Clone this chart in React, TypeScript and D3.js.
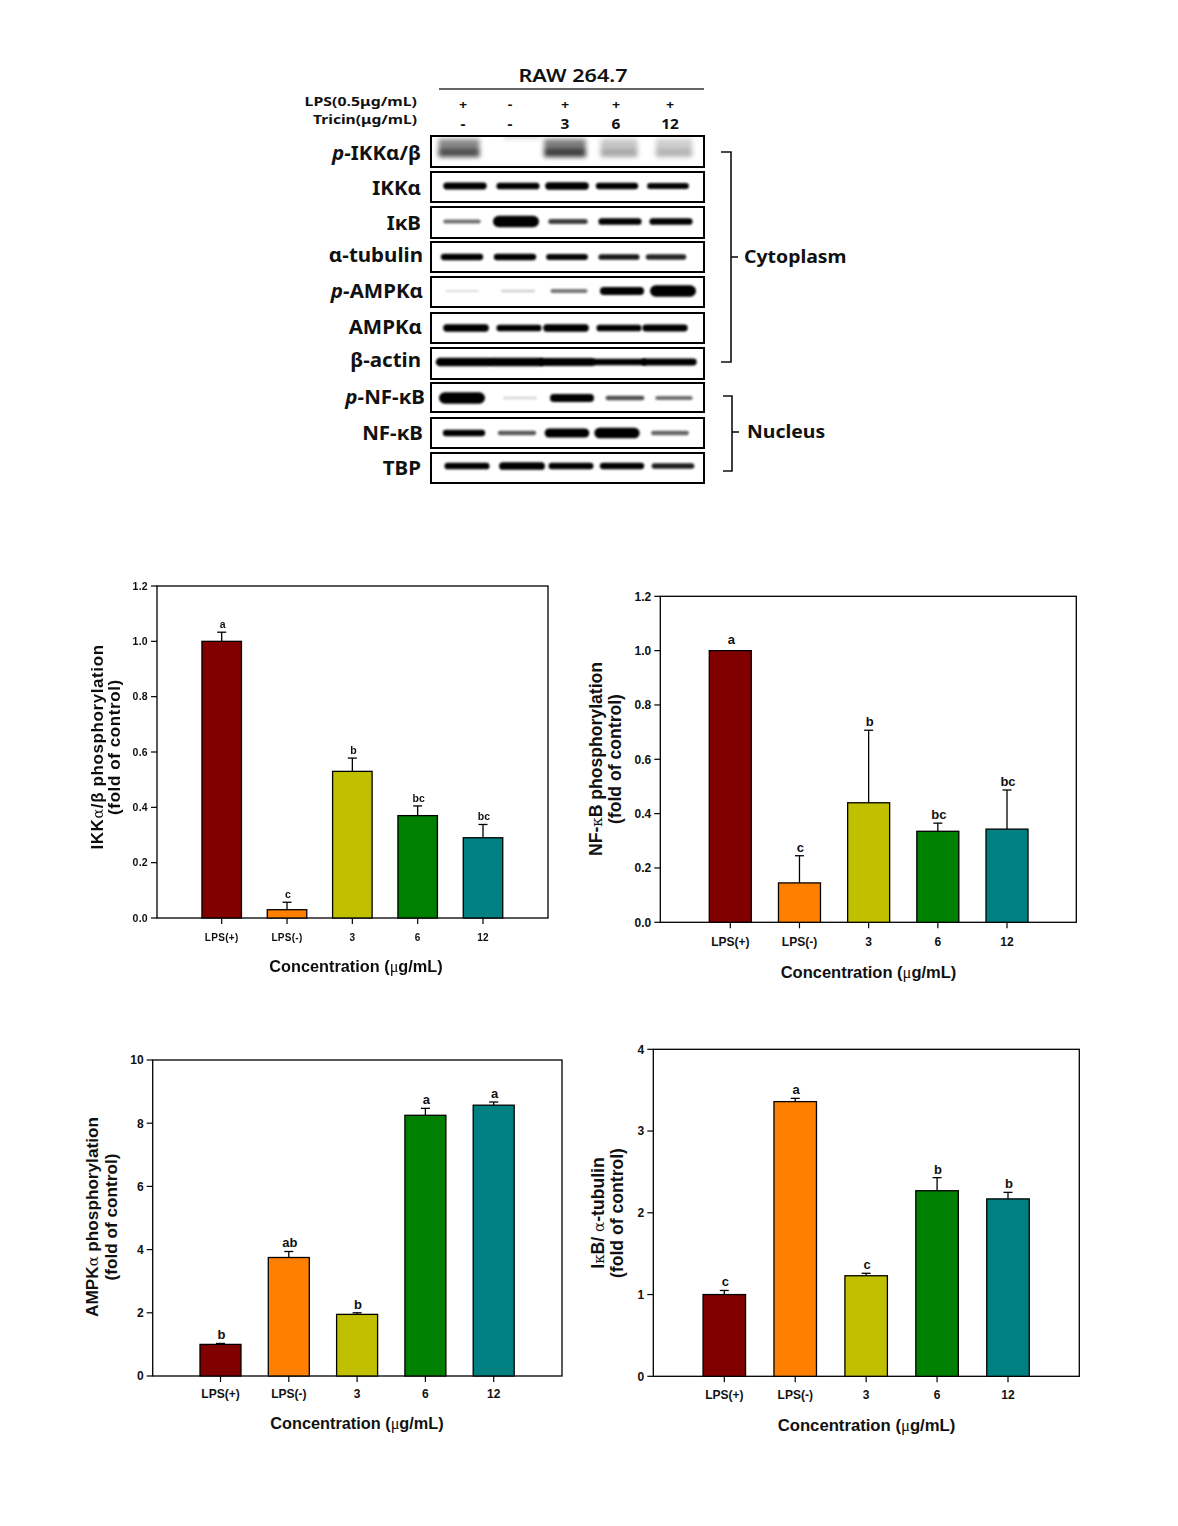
import React from "react";
import * as d3 from "d3";

// ---------- data ----------
const categories = ["LPS(+)", "LPS(-)", "3", "6", "12"];
const barColors = ["#800000", "#FF8000", "#C0C000", "#008000", "#008080"];

const ikkValues = [1.0, 0.03, 0.53, 0.37, 0.29];
const ikkErrTops = [1.033, 0.057, 0.578, 0.405, 0.338];
const ikkLetters = ["a", "c", "b", "bc", "bc"];
const ikkTicks = [0, 0.2, 0.4, 0.6, 0.8, 1.0, 1.2];

const nfkbValues = [1.0, 0.145, 0.44, 0.335, 0.343];
const nfkbErrTops = [1.0, 0.245, 0.707, 0.365, 0.487];
const nfkbLetters = ["a", "c", "b", "bc", "bc"];
const nfkbTicks = [0, 0.2, 0.4, 0.6, 0.8, 1.0, 1.2];

const ampkValues = [1.0, 3.75, 1.95, 8.25, 8.57];
const ampkErrTops = [1.03, 3.94, 2.0, 8.47, 8.67];
const ampkLetters = ["b", "ab", "b", "a", "a"];
const ampkTicks = [0, 2, 4, 6, 8, 10];

const ikbValues = [1.0, 3.36, 1.23, 2.27, 2.17];
const ikbErrTops = [1.05, 3.4, 1.26, 2.43, 2.25];
const ikbLetters = ["c", "a", "c", "b", "b"];
const ikbTicks = [0, 1, 2, 3, 4];

const lpsRow = ["+", "-", "+", "+", "+"];
const tricinRow = ["-", "-", "3", "6", "12"];

// relative band density of each lane in each blot
const pIkkBand = [0.62, 0.22, 0.68, 0.3, 0.26];
const ikkBand = [0.8, 0.78, 0.82, 0.72, 0.68];
const ikbBand = [0.35, 1, 0.5, 0.78, 0.78];
const tubulinBand = [0.72, 0.72, 0.68, 0.62, 0.58];
const pAmpkBand = [0.04, 0.08, 0.32, 0.86, 1];
const ampkBand = [0.82, 0.78, 0.82, 0.78, 0.8];
const actinBand = [0.88, 0.88, 0.86, 0.78, 0.8];
const pNfkbBand = [1, 0.06, 0.85, 0.45, 0.35];
const nfkbBand = [0.72, 0.42, 0.9, 0.95, 0.38];
const tbpBand = [0.78, 0.84, 0.76, 0.72, 0.6];

const FONT_CHART = "'Liberation Sans', Arial, sans-serif";
const FONT_BLOT = "'Noto Sans', 'Open Sans', sans-serif";

// ---------- blot panel ----------
const blots = [
  { label: "IKK", pre: "p-", suf: "α/β", d: pIkkBand, top: 136, h: 31, ly: 160, lx: 421, by: 150, shift: [-4, 7, -2, 0, 3], doublet: true, wide: 0 },
  { label: "IKKα", d: ikkBand, top: 172, h: 30, ly: 195, lx: 421, by: 186, shift: [2, 3, 0, -2, -3], wide: 0 },
  { label: "IκB", d: ikbBand, top: 207, h: 31, ly: 230, lx: 421, by: 221.5, shift: [-1, 1, 1, 1, 0], wide: 0 },
  { label: "α-tubulin", d: tubulinBand, top: 242, h: 30, ly: 262, lx: 423, by: 257, shift: [-1, 0, 0, 0, -5], wide: 0 },
  { label: "AMPKα", pre: "p-", d: pAmpkBand, top: 277, h: 30, ly: 298, lx: 423, by: 291, shift: [-1, 3, 2, 3, 2], wide: 0 },
  { label: "AMPKα", d: ampkBand, top: 313, h: 30, ly: 334, lx: 422, by: 328, shift: [3, 4, -1, 0, -6], wide: 2 },
  { label: "β-actin", d: actinBand, top: 348, h: 31, ly: 367, lx: 421, by: 362, shift: [1, 1, 0, 0, -2], wide: 12 },
  { label: "NF-κB", pre: "p-", d: pNfkbBand, top: 383, h: 29, ly: 404, lx: 425, by: 398, shift: [-1, 5, 5, 6, 3], wide: 0 },
  { label: "NF-κB", d: nfkbBand, top: 418, h: 30, ly: 440, lx: 423, by: 433, shift: [1, 2, 0, -2, -1], wide: 0 },
  { label: "TBP", d: tbpBand, top: 453, h: 30, ly: 475, lx: 421, by: 466, shift: [4, 7, 4, 3, 2], wide: 2 },
];
const headerShift = [0, -5, -2, -3, -1];

function Wide({ x, y, sx, anchor = "start", size, weight = 700, children }: any) {
  return (
    <text transform={`translate(${x},${y}) scale(${sx},1)`} textAnchor={anchor} fontFamily={FONT_BLOT}
      fontWeight={weight} fontSize={size} fill="#111">{children}</text>
  );
}

function Blot() {
  const laneX = d3.scalePoint<number>().domain(d3.range(5)).range([463, 671]);
  const thick = d3.scaleLinear().domain([0, 0.8, 1]).range([2, 6.8, 11.5]);
  const width = d3.scaleLinear().domain([0, 1]).range([33, 46]);
  const ink = d3.scaleLinear().domain([0, 0.3, 0.7, 1]).range([0.08, 0.5, 1, 1]).clamp(true);

  return (
    <g>
      <defs>
        <filter id="bandBlur" x="-20%" y="-100%" width="140%" height="300%">
          <feGaussianBlur stdDeviation="1.2" />
        </filter>
        <filter id="softBlur" x="-20%" y="-80%" width="140%" height="260%">
          <feGaussianBlur stdDeviation="2.6" />
        </filter>
      </defs>
      <Wide x={573} y={82} sx={1.2} anchor="middle" size={18} weight={600}>RAW 264.7</Wide>
      <line x1={439} x2={704} y1={89} y2={89} stroke="#333" strokeWidth={1.5} />
      <Wide x={417} y={106} sx={1.22} anchor="end" size={13}>LPS(0.5μg/mL)</Wide>
      <Wide x={417} y={124} sx={1.2} anchor="end" size={13}>Tricin(μg/mL)</Wide>
      {lpsRow.map((s, i) => (
        <Wide key={i} x={laneX(i)! + headerShift[i]} y={109} sx={1.1} anchor="middle" size={13}>{s}</Wide>
      ))}
      {tricinRow.map((s, i) => (
        <Wide key={i} x={laneX(i)! + headerShift[i]} y={129} sx={1.1} anchor="middle" size={14}>{s}</Wide>
      ))}

      {blots.map((b, r) => (
        <g key={r}>
          <clipPath id={`clip${r}`}>
            <rect x={431} y={b.top} width={273} height={b.h} />
          </clipPath>
          <rect x={431} y={b.top} width={273} height={b.h} fill="#fff" />
          <g clipPath={`url(#clip${r})`}>
            {b.d.map((v, i) => {
              const cx = laneX(i)! + b.shift[i];
              const w = width(v) + b.wide;
              if (b.doublet) {
                return (
                  <g key={i} filter="url(#softBlur)">
                    <rect x={cx - w / 2} y={b.by + (i === 1 ? -15 : -11)} width={w} height={i === 1 ? 4 : 10} fill="#000" opacity={v * 0.75} />
                    <rect x={cx - w / 2} y={b.by - 1} width={w} height={i === 1 ? 0 : 8} fill="#000" opacity={v * 1.15} />
                  </g>
                );
              }
              const t = thick(v);
              return (
                <rect key={i} x={cx - w / 2} y={b.by - t / 2} width={w} height={t} rx={t / 2}
                  fill="#000" opacity={ink(v)} filter="url(#bandBlur)" />
              );
            })}
          </g>
          <rect x={431} y={b.top} width={273} height={b.h} fill="none" stroke="#000" strokeWidth={2} />
          <Wide x={b.lx} y={b.ly} sx={1.08} anchor="end" size={19}>
            {b.pre && <tspan fontStyle="italic">{b.pre}</tspan>}
            {b.label}
            {b.suf}
          </Wide>
        </g>
      ))}

      <path d="M721,152 H731 V362 H721" fill="none" stroke="#111" strokeWidth={1.6} />
      <path d="M731,257 H738" fill="none" stroke="#111" strokeWidth={1.6} />
      <Wide x={744} y={263} sx={1.08} size={18}>Cytoplasm</Wide>
      <path d="M723,396 H732 V471 H723" fill="none" stroke="#111" strokeWidth={1.6} />
      <path d="M732,432 H739" fill="none" stroke="#111" strokeWidth={1.6} />
      <Wide x={747} y={438} sx={1.08} size={18}>Nucleus</Wide>
    </g>
  );
}

// ---------- bar panel ----------
type PanelProps = {
  values: number[]; errTops: number[]; letters: string[]; ticks: number[]; yMax: number;
  box: [number, number, number, number]; centers: [number, number]; barW: number;
  tickFmt: (v: number) => string; tickSize: number; catY: number; titleY: number; titleX: number;
  yTitle: React.ReactNode; yTitle2: string; yCenter: number; y1: number; y2: number; titleSize: number;
  ySize: number; spacing?: number; blur?: boolean; catSize: number; letterSize: number;
};

function Panel(p: PanelProps) {
  const [l, t, r, b] = p.box;
  const y = d3.scaleLinear().domain([0, p.yMax]).range([b, t]);
  const x = d3.scalePoint<string>().domain(categories).range(p.centers);
  const sp = p.spacing ?? 0;
  return (
    <g fontFamily={FONT_CHART} fontWeight={700} fill="#111" filter={p.blur ? "url(#panelBlur)" : undefined}>
      <rect x={l} y={t} width={r - l} height={b - t} fill="#fff" stroke="#000" strokeWidth={1.3} />
      {p.ticks.map((v) => (
        <g key={v}>
          <line x1={l - 6} x2={l} y1={y(v)} y2={y(v)} stroke="#000" strokeWidth={1.2} />
          <text x={l - 9} y={y(v) + p.tickSize * 0.36} textAnchor="end" fontSize={p.tickSize} letterSpacing={sp / 2}>{p.tickFmt(v)}</text>
        </g>
      ))}
      {categories.map((c, i) => {
        const cx = x(c)!;
        const hasErr = p.errTops[i] > p.values[i];
        return (
          <g key={c}>
            <line x1={cx} x2={cx} y1={b} y2={b + 6} stroke="#000" strokeWidth={1.2} />
            <text x={cx} y={p.catY} textAnchor="middle" fontSize={p.catSize} letterSpacing={sp / 2}>{c}</text>
            {hasErr && (
              <g stroke="#000" strokeWidth={1.3}>
                <line x1={cx} x2={cx} y1={y(p.values[i])} y2={y(p.errTops[i])} />
                <line x1={cx - 4.5} x2={cx + 4.5} y1={y(p.errTops[i])} y2={y(p.errTops[i])} />
              </g>
            )}
            <rect x={cx - p.barW / 2} y={y(p.values[i])} width={p.barW} height={b - y(p.values[i])}
              fill={barColors[i]} stroke="#000" strokeWidth={1.3} />
            <text x={cx + 1} y={y(p.errTops[i]) - (hasErr ? 4 : 7)} textAnchor="middle" fontSize={p.letterSize}>{p.letters[i]}</text>
          </g>
        );
      })}
      <text x={p.titleX} y={p.titleY} textAnchor="middle" fontSize={p.titleSize}>Concentration (<tspan fontFamily="'Liberation Serif', serif" fontWeight={400}>μ</tspan>g/mL)</text>
      <text transform={`translate(${p.y1},${p.yCenter}) rotate(-90)`} textAnchor="middle" fontSize={p.ySize} letterSpacing={sp}>{p.yTitle}</text>
      <text transform={`translate(${p.y2},${p.yCenter}) rotate(-90)`} textAnchor="middle" fontSize={p.ySize} letterSpacing={sp}>{p.yTitle2}</text>
    </g>
  );
}

const greek = (s: string) => <tspan fontFamily="'DejaVu Serif', serif" fontWeight={400} fontSize="0.85em">{s}</tspan>;

export default function App() {
  return (
    <svg width={1178} height={1526} viewBox="0 0 1178 1526" style={{ position: "absolute", left: 0, top: 0, display: "block", background: "#fff" }}>
      <defs>
        <filter id="panelBlur" x="-5%" y="-5%" width="110%" height="110%">
          <feGaussianBlur stdDeviation="0.45" />
        </filter>
      </defs>
      <Blot />
      <Panel values={ikkValues} errTops={ikkErrTops} letters={ikkLetters} ticks={ikkTicks} yMax={1.2}
        box={[157, 586, 548, 918]} centers={[221.7, 483]} barW={39.5} tickFmt={d3.format(".1f")} tickSize={10.5}
        catY={941} titleY={972} titleX={356} titleSize={16.3} ySize={17} catSize={10} letterSize={10.5} spacing={0.6} blur
        yTitle={<>IKK{greek("α")}/β phosphorylation</>} yTitle2="(fold of control)" yCenter={747} y1={103} y2={120} />
      <Panel values={nfkbValues} errTops={nfkbErrTops} letters={nfkbLetters} ticks={nfkbTicks} yMax={1.2}
        box={[660.3, 596.3, 1076.3, 922.3]} centers={[730.3, 1007]} barW={42} tickFmt={d3.format(".1f")} tickSize={12}
        catY={946} titleY={978} titleX={868.5} titleSize={16.5} ySize={17.6} catSize={12} letterSize={13}
        yTitle={<>NF-{greek("κ")}B phosphorylation</>} yTitle2="(fold of control)" yCenter={759} y1={602} y2={621} />
      <Panel values={ampkValues} errTops={ampkErrTops} letters={ampkLetters} ticks={ampkTicks} yMax={10}
        box={[152.7, 1060, 562, 1376]} centers={[220.5, 493.7]} barW={41} tickFmt={d3.format("d")} tickSize={12}
        catY={1398} titleY={1429} titleX={357} titleSize={16.3} ySize={17.2} catSize={12} letterSize={13}
        yTitle={<>AMPK{greek("α")} phosphorylation</>} yTitle2="(fold of control)" yCenter={1217} y1={98} y2={117} />
      <Panel values={ikbValues} errTops={ikbErrTops} letters={ikbLetters} ticks={ikbTicks} yMax={4}
        box={[653.3, 1049.3, 1079.3, 1376.3]} centers={[724.3, 1008]} barW={42.5} tickFmt={d3.format("d")} tickSize={12}
        catY={1399} titleY={1431} titleX={866.5} titleSize={16.7} ySize={17.6} catSize={12} letterSize={13}
        yTitle={<>I{greek("κ")}B/ {greek("α")}-tubulin</>} yTitle2="(fold of control)" yCenter={1213} y1={604} y2={623} />
    </svg>
  );
}
